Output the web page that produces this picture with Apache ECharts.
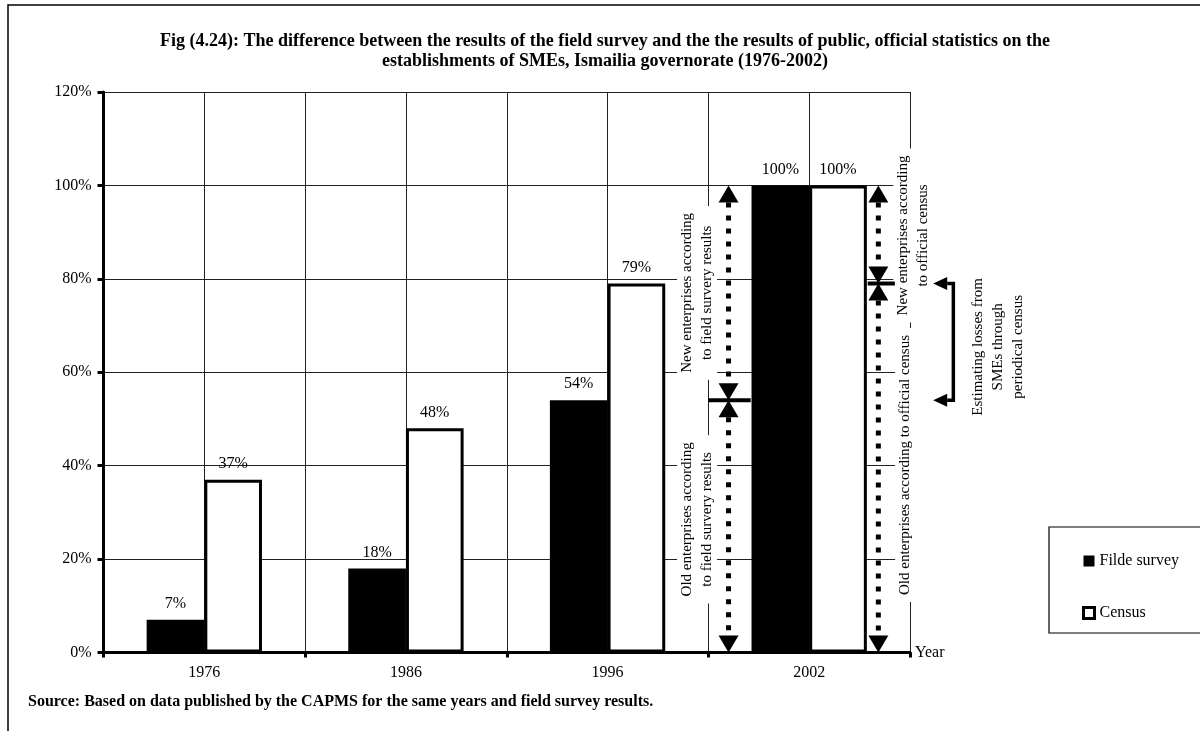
<!DOCTYPE html>
<html>
<head>
<meta charset="utf-8">
<script src="https://cdn.jsdelivr.net/npm/echarts@6/dist/echarts.min.js"></script>
<style>
  html, body { margin: 0; padding: 0; background: #fff; }
  #chart { width: 1200px; height: 731px; }
</style>
</head>
<body>
<div id="chart"></div>
<script>
// Share of SME establishments, Ismailia governorate
var years = ['1976', '1986', '1996', '2002'];
var fieldSurvey = [7, 18, 54, 100];   // Filde survey
var census = [37, 48, 79, 100];       // Census
var yMin = 0, yMax = 120, yStep = 20;
// eight half-category slots, used only for the vertical grid lines
var halfSlots = ['a', 'b', 'c', 'd', 'e', 'f', 'g', 'h'];

var titleText = 'Fig (4.24): The difference between the results of the field survey and the the results of public, official statistics on the\nestablishments of SMEs, Ismailia governorate (1976-2002)';
var sourceText = 'Source: Based on data published by the CAPMS for the same years and field survey results.';
var noteNewField = 'New enterprises according\nto field survery results';
var noteOldField = 'Old enterprises according\nto field survery results';
var noteNewCensus = 'New enterprises according\nto official census';
var noteOldCensus = 'Old enterprises according to official census';
var noteLosses = 'Estimating losses from\nSMEs through\nperiodical census';

var SERIF = '"Liberation Serif", "Times New Roman", serif';
var last = years.length - 1;
// [category, field-survey split, census split, total]
var noteData = [[last, fieldSurvey[last - 1], census[last - 1], fieldSurvey[last]]];

function noteText(txt, x, y) {
  return {
    type: 'text', x: x, y: y, rotation: Math.PI / 2,
    style: {
      text: txt, fill: '#000', font: '15px ' + SERIF,
      align: 'center', verticalAlign: 'middle', lineHeight: 20,
      backgroundColor: '#fff', padding: [0, 7]
    }
  };
}

function dottedArrow(x, ya, yb) {
  var h = 17, w = 20;
  return [
    { type: 'line', shape: { x1: x, y1: ya + h, x2: x, y2: yb - h },
      style: { stroke: '#000', lineWidth: 5, lineDash: [5, 8] } },
    { type: 'polygon', shape: { points: [[x, ya], [x - w / 2, ya + h], [x + w / 2, ya + h]] },
      style: { fill: '#000' } },
    { type: 'polygon', shape: { points: [[x, yb], [x - w / 2, yb - h], [x + w / 2, yb - h]] },
      style: { fill: '#000' } }
  ];
}

function renderNotes(params, api) {
  var cat = api.value(0);
  var pTop = api.coord([cat, api.value(3)]);
  var pF = api.coord([cat, api.value(1)]);
  var pC = api.coord([cat, api.value(2)]);
  var pB = api.coord([cat, 0]);
  var bw = api.size([1, 0])[0];
  var cx = pTop[0], yT = pTop[1], yF = pF[1], yC = pC[1], yB = pB[1];

  var xL = cx - 0.40 * bw;     // field-survey arrow
  var xR = cx + 0.343 * bw;    // census arrow
  var xBr = cx + 0.715 * bw;   // losses bracket
  var xTip = cx + 0.615 * bw;

  var els = [];
  els.push(noteText(noteNewField, cx - 0.556 * bw, (yT + yF) / 2));
  els.push(noteText(noteOldField, cx - 0.556 * bw, (yF + yB) / 2 - 7));
  els.push(noteText(noteNewCensus, cx + 0.516 * bw, (yT + yC) / 2 + 1));
  els.push(noteText(noteOldCensus, cx + 0.476 * bw, (yC + yB) / 2 - 3));
  els.push(noteText(noteLosses, cx + 0.9375 * bw, (yC + yF) / 2 + 5));

  els = els.concat(dottedArrow(xL, yT, yF), dottedArrow(xL, yF, yB));
  els = els.concat(dottedArrow(xR, yT, yC), dottedArrow(xR, yC, yB));

  // split markers
  els.push({ type: 'line', shape: { x1: cx - 0.5 * bw, y1: yF, x2: cx - 0.29 * bw, y2: yF },
    style: { stroke: '#000', lineWidth: 4 } });
  els.push({ type: 'line', shape: { x1: cx + 0.29 * bw, y1: yC, x2: cx + 0.425 * bw, y2: yC },
    style: { stroke: '#000', lineWidth: 4 } });

  // bracket between the two splits
  var hb = 14, hh = 6.5;
  els.push({ type: 'polyline',
    shape: { points: [[xTip + hb, yC], [xBr, yC], [xBr, yF], [xTip + hb, yF]] },
    style: { stroke: '#000', lineWidth: 3.5, fill: null } });
  els.push({ type: 'polygon', shape: { points: [[xTip, yC], [xTip + hb, yC - hh], [xTip + hb, yC + hh]] },
    style: { fill: '#000' } });
  els.push({ type: 'polygon', shape: { points: [[xTip, yF], [xTip + hb, yF - hh], [xTip + hb, yF + hh]] },
    style: { fill: '#000' } });

  return { type: 'group', children: els };
}

var chart = echarts.init(document.getElementById('chart'), null, { renderer: 'canvas' });

var barLabel = {
  show: true, position: 'top', distance: 8,
  fontFamily: SERIF, fontSize: 16, color: '#000',
  formatter: '{c}%'
};

chart.setOption({
  backgroundColor: '#fff',
  animation: false,
  legend: {
    orient: 'vertical',
    left: 1077, top: 547,
    itemWidth: 11, itemHeight: 11, itemGap: 34,
    textStyle: { fontFamily: SERIF, fontSize: 16, color: '#000', lineHeight: 18 },
    data: [
      { name: 'Filde survey', icon: 'rect', itemStyle: { color: '#000', borderWidth: 0 } },
      { name: 'Census', icon: 'rect', itemStyle: { color: '#fff', borderColor: '#000', borderWidth: 3 } }
    ]
  },
  grid: { left: 103.5, right: 290, top: 92, bottom: 78.5, containLabel: false },
  xAxis: [
    {
      type: 'category', data: years,
      name: 'Year', nameLocation: 'end', nameGap: 5,
      nameTextStyle: { fontFamily: SERIF, fontSize: 16, color: '#000', padding: [0, 0, 8, 0] },
      axisLine: { lineStyle: { color: '#000', width: 3 } },
      axisTick: { show: true, length: 5, lineStyle: { color: '#000', width: 3 } },
      axisLabel: { fontFamily: SERIF, fontSize: 16, color: '#000', margin: 12 },
      splitLine: { show: false }
    },
    {
      type: 'category', data: halfSlots, position: 'bottom',
      axisLine: { show: false }, axisTick: { show: false }, axisLabel: { show: false },
      splitLine: { show: true, lineStyle: { color: '#222', width: 1 } }
    }
  ],
  yAxis: {
    type: 'value', min: yMin, max: yMax, interval: yStep,
    axisLine: { show: true, lineStyle: { color: '#000', width: 3 } },
    axisTick: { show: true, length: 6, lineStyle: { color: '#000', width: 3 } },
    axisLabel: { fontFamily: SERIF, fontSize: 16, color: '#000', margin: 12, formatter: '{value}%' },
    splitLine: { show: true, lineStyle: { color: '#222', width: 1 } }
  },
  graphic: [
    { type: 'rect', shape: { x: 8, y: 5, width: 1400, height: 1000 },
      style: { fill: null, stroke: '#000', lineWidth: 1.5 }, silent: true },
    { type: 'rect', shape: { x: 1049, y: 527, width: 300, height: 106 },
      style: { fill: null, stroke: '#000', lineWidth: 1.2 }, silent: true },
    { type: 'text', x: 605, y: 31,
      style: { text: titleText, fill: '#000', font: 'bold 18px ' + SERIF,
        align: 'center', verticalAlign: 'top', lineHeight: 20 } },
    { type: 'text', left: 28, top: 694,
      style: { text: sourceText, fill: '#000', font: 'bold 16px ' + SERIF } }
  ],
  series: [
    {
      name: 'Filde survey', type: 'bar', data: fieldSurvey,
      barWidth: '28.6%', barGap: '0%',
      itemStyle: { color: '#000' },
      label: barLabel
    },
    {
      name: 'Census', type: 'bar', data: census,
      barWidth: '28.6%', barGap: '0%',
      itemStyle: { color: '#fff', borderColor: '#000', borderWidth: 3 },
      label: barLabel
    },
    {
      name: 'notes', type: 'custom', renderItem: renderNotes,
      data: noteData, z: 5, silent: true, clip: false
    }
  ]
});
</script>
</body>
</html>
